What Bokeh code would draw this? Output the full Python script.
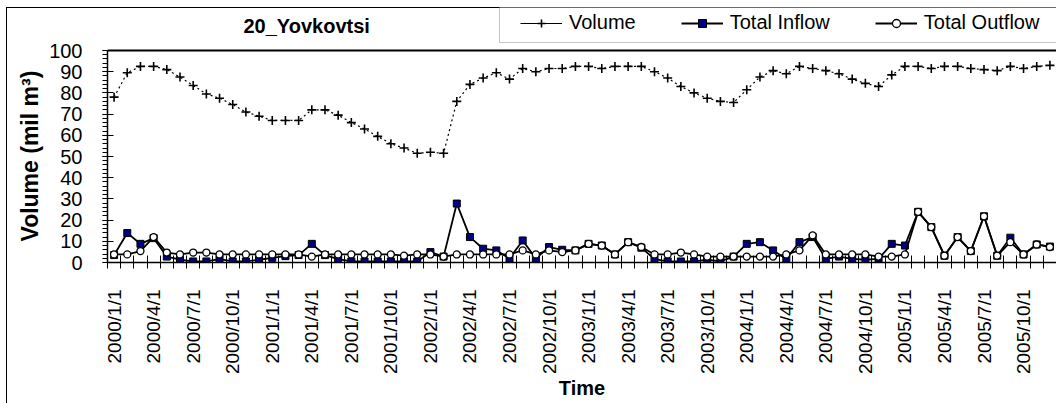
import math
from bokeh.plotting import figure
from bokeh.models import (Range1d, FixedTicker, Legend, LegendItem, Label, Title,
                          BoxAnnotation, Span, ColumnDataSource)
from bokeh.embed import file_html
from bokeh.resources import INLINE

# ---------------- data ----------------
years = [2000, 2001, 2002, 2003, 2004, 2005]
months = list(range(1, 13))
dates = [f"{y}/{m}/1" for y in years for m in months]

tick_labels = ["2000/1/1", "2000/4/1", "2000/7/1", "2000/10/1",
               "2001/1/1", "2001/4/1", "2001/7/1", "2001/10/1",
               "2002/1/1", "2002/4/1", "2002/7/1", "2002/10/1",
               "2003/1/1", "2003/4/1", "2003/7/1", "2003/10/1",
               "2004/1/1", "2004/4/1", "2004/7/1", "2004/10/1",
               "2005/1/1", "2005/4/1", "2005/7/1", "2005/10/1"]

y_ticks = [0, 10, 20, 30, 40, 50, 60, 70, 80, 90, 100]

volume = [78, 89.5, 92.5, 92.5, 91, 87.5, 83.5, 79.5, 77.5, 74.5, 71, 69,
          67, 67, 67, 72, 72, 69.5, 66, 63, 59.5, 56, 54, 51.5,
          52, 51.5, 76, 84, 87, 89.5, 86.5, 91.5, 90, 91.5, 91.5, 92.5,
          92.5, 91.5, 92.5, 92.5, 92.5, 90, 87, 83, 80, 77.5, 76, 75.5,
          81.5, 87.5, 90.5, 89, 92.5, 91.5, 90.5, 89, 86.5, 84.5, 83, 88.5,
          92.5, 92.5, 91.5, 92.5, 92.5, 91.5, 91, 90.5, 92.5, 91.5, 92.5, 93]

total_inflow = [3.5, 13.9, 8.8, 11.5, 2.8, 1.3, 0.5, 0.5, 1.6, 0.5, 0.5, 1.3,
                2.2, 3.0, 3.5, 8.8, 3.5, 1.6, 0.5, 0.5, 0.5, 0.5, 0.5, 0.5,
                4.9, 2.8, 27.8, 12.0, 6.5, 5.7, 1.9, 10.4, 1.9, 7.3, 6.0, 5.7,
                8.8, 8.0, 3.8, 9.6, 7.0, 1.6, 0.5, 0.5, 0.5, 1.3, 0.5, 2.8,
                8.8, 9.6, 5.7, 1.7, 9.6, 12.0, 1.7, 2.8, 1.7, 1.3, 1.7, 8.8,
                8.0, 23.9, 16.7, 3.2, 12.0, 5.4, 21.8, 3.2, 11.7, 3.8, 8.5, 7.5]

total_outflow = [3.8, 3.8, 5.4, 12.0, 4.7, 3.8, 4.7, 4.7, 3.8, 3.8, 3.8, 3.8,
                 3.8, 3.8, 3.8, 2.8, 3.8, 3.8, 3.8, 3.8, 3.8, 3.8, 3.2, 3.8,
                 3.8, 2.8, 3.8, 3.8, 3.8, 3.8, 3.8, 5.7, 3.8, 5.7, 4.9, 5.7,
                 8.8, 8.0, 3.8, 9.6, 7.3, 3.8, 3.8, 4.7, 3.8, 2.8, 2.8, 2.8,
                 2.8, 2.8, 2.8, 3.8, 5.7, 12.8, 3.8, 3.8, 3.8, 3.8, 2.8, 2.8,
                 3.8, 23.9, 16.7, 3.2, 12.0, 5.4, 21.8, 3.2, 9.6, 3.8, 8.5, 7.3]

title_text = "20_Yovkovtsi"
series_names = ["Volume", "Total Inflow", "Total Outflow"]

# ---------------- layout constants (pixels) ----------------
FONT = "Liberation Sans"
W, H = 1056, 403
FRAME_LEFT = 107
PLOT_TOP = 50        # pixel row of the value 100
PLOT_BOTTOM = 262    # pixel row of the value 0
Y_MAX = y_ticks[-1]
y_end = Y_MAX * PLOT_BOTTOM / (PLOT_BOTTOM - PLOT_TOP)   # frame reaches top of canvas

src = ColumnDataSource(dict(x=list(range(len(dates))), date=dates, vol=volume,
                            inflow=total_inflow, outflow=total_outflow))

p = figure(width=W, height=H, output_backend="svg", toolbar_location=None,
           x_range=Range1d(-0.5, len(dates) - 0.5), y_range=Range1d(0, y_end),
           min_border_left=FRAME_LEFT, min_border_right=0, min_border_top=0,
           min_border_bottom=H - PLOT_BOTTOM)
p.styles = {"box-shadow": "inset 6px 7px 0 0 white, inset 7px 8px 0 0 black"}
p.background_fill_alpha = 0
p.border_fill_alpha = 0
p.outline_line_color = None
p.xgrid.visible = False
p.ygrid.visible = False

# top border of plot area
p.add_layout(Span(location=Y_MAX, dimension="width", line_color="black", line_width=2))

# series
r_vol_line = p.line("x", "vol", source=src, line_color="black", line_width=1.2, line_dash="2 3")
r_vol_pts = p.scatter("x", "vol", source=src, marker="cross", size=9, line_color="black", line_width=1.6)
r_in_line = p.line("x", "inflow", source=src, line_color="black", line_width=1.8)
r_in_pts = p.scatter("x", "inflow", source=src, marker="square", size=7, fill_color="#000080",
                     line_color="black", line_width=1)
r_out_line = p.line("x", "outflow", source=src, line_color="black", line_width=1.8)
r_out_pts = p.scatter("x", "outflow", source=src, marker="circle", size=7, fill_color="white",
                      line_color="black", line_width=1.3)

# x axis
xa = p.xaxis[0]
xa.ticker = FixedTicker(ticks=list(range(0, len(dates), 3)),
                        minor_ticks=[i - 0.5 for i in range(len(dates) + 1)])
xa.major_label_overrides = {i: lab for i, lab in zip(range(0, len(dates), 3), tick_labels)}
xa.major_label_orientation = math.pi / 2
xa.major_tick_in = 0
xa.major_tick_out = 0
xa.minor_tick_in = 7
xa.minor_tick_out = 6
xa.minor_tick_line_color = "black"
xa.axis_line_color = "black"
xa.axis_line_width = 1.5
xa.major_label_standoff = 21
xa.major_label_text_font = FONT
xa.major_label_text_font_size = "19px"
xa.major_label_text_color = "black"
xa.axis_label = "Time"
xa.axis_label_text_font = FONT
xa.axis_label_text_font_style = "bold"
xa.axis_label_text_font_size = "20px"
xa.axis_label_text_color = "black"
xa.axis_label_standoff = 0

# y axis
ya = p.yaxis[0]
ya.ticker = FixedTicker(ticks=y_ticks, minor_ticks=list(range(0, Y_MAX + 1, 2)))
ya.bounds = (0, Y_MAX)
ya.major_tick_in = 6
ya.major_tick_out = 5
ya.minor_tick_in = 0
ya.minor_tick_out = 5
ya.major_tick_line_color = "black"
ya.minor_tick_line_color = "black"
ya.axis_line_color = "black"
ya.axis_line_width = 1.5
ya.major_label_standoff = 20
ya.major_label_text_font = FONT
ya.major_label_text_font_size = "20px"
ya.major_label_text_color = "black"

# y-axis title as a side-panel title, starting just above the bottom of the value axis
p.add_layout(Title(text="Volume (mil m³)", align="left", offset=21,
                   text_font=FONT, text_font_style="bold", text_font_size="23px",
                   text_color="black", standoff=8), "left")

# chart title
p.add_layout(Label(x=243 - FRAME_LEFT, y=PLOT_BOTTOM - 25, x_units="screen", y_units="screen",
                   text=title_text, text_font=FONT, text_font_style="bold",
                   text_font_size="20px", text_baseline="middle", text_align="left",
                   text_color="black"))

# legend box
p.add_layout(BoxAnnotation(left=499 - FRAME_LEFT, right=W, top=PLOT_BOTTOM - 7,
                           bottom=PLOT_BOTTOM - 42,
                           left_units="screen", right_units="screen",
                           top_units="screen", bottom_units="screen",
                           fill_color="white", fill_alpha=1,
                           line_color="#404040", line_width=1))

# solid legend line for Volume (a single point draws nothing in the plot)
lv = p.line(x=[0], y=[volume[0]], line_color="black", line_width=1)

legend = Legend(items=[LegendItem(label=series_names[0], renderers=[lv, r_vol_pts]),
                       LegendItem(label=series_names[1], renderers=[r_in_line, r_in_pts]),
                       LegendItem(label=series_names[2], renderers=[r_out_line, r_out_pts])],
                orientation="horizontal", location=(513 - FRAME_LEFT, PLOT_BOTTOM - 41),
                padding=7, spacing=45, glyph_width=42, glyph_height=20, label_standoff=7,
                label_text_font=FONT, label_text_font_size="20px", label_height=20,
                label_text_color="black", margin=0,
                border_line_alpha=0, background_fill_alpha=0)
p.add_layout(legend, "center")

open("out.html", "w").write(file_html(p, INLINE))
